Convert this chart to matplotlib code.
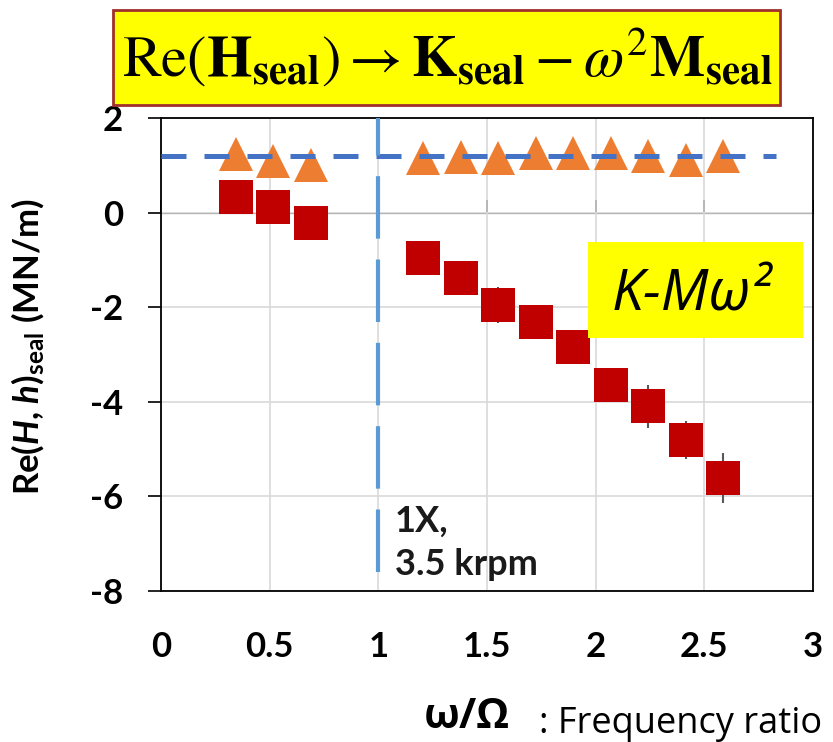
import matplotlib.pyplot as plt
from matplotlib.patches import Rectangle

# frequency ratio w/Omega
freq_ratio = [0.345, 0.517, 0.690, 1.207, 1.379, 1.552, 1.724, 1.897, 2.069, 2.241, 2.414, 2.586]
# Re(H)seal, squares
re_seal = [0.33, 0.11, -0.23, -0.97, -1.38, -1.95, -2.31, -2.85, -3.64, -4.10, -4.81, -5.62]
re_seal_err = [0.05, 0.05, 0.05, 0.05, 0.05, 0.38, 0.05, 0.05, 0.36, 0.45, 0.41, 0.53]
# Re(h)seal, triangles
re_small = [1.23, 1.10, 1.00, 1.16, 1.17, 1.16, 1.27, 1.27, 1.26, 1.20, 1.11, 1.19]
re_small_err = [0.05, 0.05, 0.05, 0.05, 0.21, 0.05, 0.23, 0.23, 0.20, 0.23, 0.05, 0.05]

ref_level = 1.2        # horizontal dashed reference
ref_level_end = 2.83
one_x = 1.0            # 1X line
one_x_bottom = -7.6

x_ticks = [0, 0.5, 1, 1.5, 2, 2.5, 3]
x_tick_labels = ["0", "0.5", "1", "1.5", "2", "2.5", "3"]
y_ticks = [2, 0, -2, -4, -6, -8]

W, H = 833, 742
plt.rcParams["font.family"] = ["Lato", "DejaVu Sans"]
plt.rcParams["axes.unicode_minus"] = False
plt.rcParams["mathtext.fontset"] = "custom"
plt.rcParams["mathtext.rm"] = "Lato:bold"
plt.rcParams["mathtext.it"] = "Lato:bold:italic"
plt.rcParams["mathtext.bf"] = "Lato:bold"


def fx(px):
    return px / W


def fy(py):
    return 1 - py / H


fig = plt.figure(figsize=(W / 100, H / 100), dpi=100)
ax_w = 813 - 161
ax_h = 590.7 - 118
ax = fig.add_axes([fx(161), fy(590.7), fx(ax_w), ax_h / H])

ax.set_xlim(0, 3)
ax.set_ylim(-8, 2)
ax.set_xticks(x_ticks)
ax.set_xticklabels(x_tick_labels)
ax.set_yticks(y_ticks)
ax.grid(True, color="#D9D9D9", lw=1.2, zorder=0)
ax.set_axisbelow(True)
for s in ax.spines.values():
    s.set_color("black")
    s.set_linewidth(1.3)
ax.tick_params(axis="x", length=0, pad=29, labelsize=25)
ax.tick_params(axis="y", direction="out", length=9.5, width=1.2, pad=18, labelsize=25)
for lab in ax.get_xticklabels() + ax.get_yticklabels():
    lab.set_fontweight("bold")

# axis line through y = 0 with downward ticks
zero_axis = ax.secondary_xaxis((0 - (-8)) / 10)
zero_axis.set_xticks(x_ticks)
zero_axis.set_xticklabels([])
zero_axis.tick_params(direction="out", length=9.5, width=1.3, color="black")
zero_axis.spines["bottom"].set_linewidth(1.3)

ax.errorbar(freq_ratio, re_small, yerr=re_small_err, fmt="^", ms=24, mew=0,
            color="#ED7D31", ecolor="#595959", elinewidth=1.5, capsize=5, zorder=3)
ax.errorbar(freq_ratio, re_seal, yerr=re_seal_err, fmt="s", ms=24, mew=0,
            color="#C00000", ecolor="#595959", elinewidth=1.5, capsize=5, zorder=3)

ax.hlines(ref_level, 0, ref_level_end, colors="#4472C4", lw=3.6,
          linestyles=(0, (5, 3.6)), zorder=4)
ax.vlines(one_x, one_x_bottom, 2, colors="#5B9BD5", lw=3,
          linestyles=(0, (15, 5)), zorder=4, clip_on=False)

ax.text(1.077, -7.66, "1X,\n3.5 krpm", fontsize=26, fontweight="bold",
        color="#1A1A1A", ha="left", va="baseline", linespacing=1.35, zorder=5)

ax.set_ylabel(r"Re($\mathit{H}$, $\mathit{h})_{\mathrm{seal}}$ (MN/m)",
              fontsize=25, fontweight="bold")
ax.yaxis.set_label_coords((46 - 161) / ax_w, (590.7 - 347) / ax_h)

# title box
fig.patches.append(Rectangle((fx(113), fy(105)), fx(667), 95 / H, transform=fig.transFigure,
                             facecolor="#FFFF00", edgecolor="#A0302C", lw=2, zorder=10))
fig.text(fx(447), fy(58),
         r"$\mathrm{Re}\left(\mathbf{H}_{\mathbf{seal}}\right)\rightarrow\mathbf{K}_{\mathbf{seal}}-\omega^{2}\mathbf{M}_{\mathbf{seal}}$",
         math_fontfamily="stix", fontsize=42, ha="center", va="center", zorder=11)

# K-Mw^2 box
fig.patches.append(Rectangle((fx(588), fy(338)), fx(215), 96 / H, transform=fig.transFigure,
                             facecolor="#FFFF00", edgecolor="none", zorder=10))
fig.text(fx(612), fy(311), "K-Mω²", family=["Open Sans", "DejaVu Sans"], style="italic",
         fontsize=41, ha="left", va="baseline", zorder=11)

# x label
fig.text(fx(424), fy(728), "ω/Ω", family=["Open Sans", "DejaVu Sans"], fontweight="bold",
         fontsize=30, ha="left", va="baseline")
fig.text(fx(539), fy(733), ": Frequency ratio", family=["Open Sans", "DejaVu Sans"],
         fontsize=26, ha="left", va="baseline")

fig.savefig("out.png", dpi=100)
